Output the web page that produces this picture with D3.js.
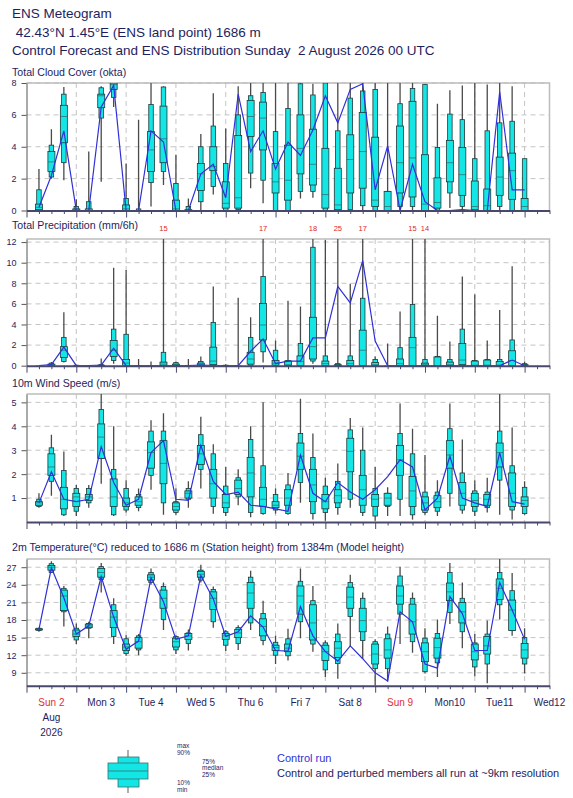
<!DOCTYPE html>
<html>
<head>
<meta charset="utf-8">
<script src="https://cdn.jsdelivr.net/npm/d3@7"></script>
<style>
body{margin:0;background:#fff;}
text{font-family:"Liberation Sans",Arial,Helvetica,sans-serif;}
</style>
</head>
<body>
<svg id="meteo" width="573" height="798"></svg>
<script>
// forecast steps (hours after 2 Aug 2026 00 UTC)
var stepHours = [6,12,18,24,30,36,42,48,54,60,66,72,78,84,90,96,102,108,114,120,
                 126,132,138,144,150,156,162,168,174,180,186,192,198,204,210,216,222,228,234,240];
var dayBounds = [24,48,72,96,120,144,168,192,216,240];
var dayMid = [12,36,60,84,108,132,156,180,204,228,252];
var dayLabels = ["Sun 2","Mon 3","Tue 4","Wed 5","Thu 6","Fri 7","Sat 8","Sun 9","Mon10","Tue11","Wed12"];
var dayRed = [true,false,false,false,false,false,false,true,false,false,false];

// total cloud cover (okta)
var cloudMin = [0,2.0,1.9,0,0,1.8,6.5,0,0,0.25,1.6,0,0,0,1.0,0,0,1.4,0.45,0,0,0.75,0.8,0,0,0,0,0,0,0,0,0,0,0.15,0,0,0,0,0,0];
var cloudP10 = [0,2.1,3.0,0,0,5.8,7.1,0,0,1.75,2.45,0,0,0.55,1.5,0,0.05,2.35,1.9,0,0,1.2,1.2,0,0,0.05,0.3,0,0,0.25,0.25,0,0,1.1,0.25,0,0,0.25,0,0];
var cloudP25 = [0.05,2.45,4.25,0,0,6.45,7.6,0,0,2.45,3.0,0,0,1.25,2.5,0.15,0.15,4.65,3.8,1.1,0.65,2.3,1.6,0.15,0.05,1.1,1.4,0.25,0,1.1,0.85,0,0.15,1.8,0.95,0.05,0,0.95,0.7,0];
var cloudMed = [0.2,3.05,5.9,0.05,0,7.2,7.9,0.1,0,3.8,4.5,0.1,0,2.3,2.75,0.45,0.8,5.9,5.8,1.8,1.9,3.9,2.9,1.0,0.35,3.2,3.7,0.65,0.25,3.0,3.3,0.4,0.5,3.0,2.25,0.25,0.3,2.1,2.5,0.25];
var cloudP75 = [0.4,3.7,6.6,0.1,0.1,7.3,8,0.35,0,4.95,6.55,0.65,0.05,2.95,4.0,1.8,4.7,6.9,6.8,2.95,4.1,6.0,5.1,3.9,2.65,4.75,6.15,4.6,1.2,5.3,6.85,3.5,2.05,4.4,3.95,1.85,1.35,3.35,3.6,0.75];
var cloudP90 = [1.3,4.1,7.3,0.25,0.55,7.7,8,0.75,0.1,6.65,7.75,1.7,0.25,4.0,5.3,2.95,6.0,7.2,7.4,4.95,6.4,7.95,7.25,8,5.0,7.05,7.5,7.6,1.2,6.7,7.65,7.9,3.95,6.05,5.7,3.25,5.0,5.5,5.6,3.25];
var cloudMax = [2.6,5.1,7.75,0.7,3.7,7.8,8,2.95,5.7,8,7.8,3.5,0.75,4.8,7.35,5.15,7.8,8,8,8,8,8,7.95,8,8,8,8,8,8,8,8,7.9,6.7,7.55,7.85,8,7.9,8,7.8,3.25];
var cloudCtrl = [0.2,2.2,5.0,0,0,6.5,7.85,0,0,5.0,4.3,0,0,2.3,2.9,0.8,7.3,3.7,5.0,2.6,4.3,3.45,5.05,7.2,5.5,7.6,7.95,1.3,4.05,0,2.9,0.55,0,0,0.05,0,0,7.45,1.3,1.3];

// total precipitation (mm/6h)
var precMin = [0,0,0.3,0,0,0,0.2,0,0,0,0,0,0,0,0,0,0,0,0.3,0,0,0,0.2,0,0,0,0,0,0,0,0,0,0,0,0,0,0,0,0,0];
var precP10 = [0,0,0.4,0,0,0,0.5,0,0,0,0,0,0,0,0,0,0,0,1.35,0,0,0,0.45,0,0,0,0,0,0,0,0,0,0,0,0,0,0,0,0,0];
var precP25 = [0,0,0.8,0,0,0,0.9,0,0,0,0,0,0,0,0.1,0,0,0.15,2.5,0.05,0,0,0.65,0,0,0,0,0,0,0,0,0,0,0,0.1,0,0,0,0,0];
var precMed = [0,0.05,1.5,0,0,0,1.5,0.25,0,0,0.15,0.05,0,0.1,0.45,0,0,0.65,3.95,0.25,0.1,0.4,1.85,0.2,0,0.2,1.5,0.1,0,0.2,1.75,0.1,0,0.1,0.55,0.05,0.05,0.05,0.5,0];
var precP75 = [0,0.15,1.85,0,0,0.05,2.45,0.6,0,0,0.35,0.15,0,0.25,1.8,0,0,1.3,6.05,0.5,0.45,0.95,4.7,0.45,0.1,0.5,3.45,0.3,0,0.65,2.75,0.25,0.85,0.35,2.15,0.45,0.55,0.4,1.45,0.1];
var precP90 = [0,0.25,2.75,0.05,0,0.1,3.55,3.05,0,0,1.3,0.3,0,0.4,4.2,0.05,0,2.75,8.65,1.5,0.5,2.15,11.5,0.95,0.2,0.95,6.55,0.6,0,1.75,5.95,0.6,0.9,0.6,3.55,0.5,0.6,0.6,2.5,0.2];
var precMax = [0,0.35,5.2,0.1,0,0.7,9.5,9.3,0.65,0.4,15,0.4,0.65,0.9,7.7,0.15,6.6,4.7,17,2.45,6.3,5.75,18,12.2,25,7.95,17,0.9,2.15,5.25,15,14,4.85,2.35,8.65,6.9,2.45,5.4,9.65,0.4];
var precCtrl = [0,0.1,1.8,0,0,0.05,1.7,0,0,0,0,0,0,0.05,0,0,0,1.4,2.6,0.2,0.45,0.45,2.7,2.7,7.7,6.1,10.2,2.4,0,0,0,0,0,0,0,0,0,0,0.55,0];

// 10m wind speed (m/s)
var windMin = [0.6,1.1,0.25,0.25,0.6,1.6,0.25,0.4,0.45,1.35,0.3,0.3,0.6,1.4,0.35,0.25,0.7,0.2,0.3,0.35,0.3,0.8,0.1,0.05,0.3,0.6,0.25,0.05,0.25,0.25,0.1,0.3,0.25,0.65,0.35,0.25,0.4,0.3,0.1,0.3];
var windP10 = [0.65,1.7,0.3,0.45,0.8,2.65,0.3,0.5,0.6,1.95,0.8,0.4,0.95,2.2,0.65,0.4,1.05,0.4,0.35,0.5,0.35,1.65,0.35,0.4,0.6,0.95,0.4,0.25,0.65,0.95,0.3,0.4,0.45,1.2,0.5,0.45,0.6,1.75,0.5,0.35];
var windP25 = [0.7,1.95,0.55,0.65,0.9,2.65,0.65,0.65,0.7,2.25,1.6,0.5,1.0,2.4,1.0,0.6,1.15,1.05,0.65,0.6,0.7,2.2,0.85,0.55,0.8,2.1,0.7,0.65,0.7,1.95,0.65,0.5,0.6,2.25,0.7,0.65,0.7,2.3,0.65,0.65];
var windMed = [0.8,2.3,0.95,1.05,1.05,3.55,1.05,0.8,0.85,2.9,2.45,0.65,1.2,2.85,1.6,0.8,1.4,2.05,0.95,0.7,1.0,2.75,1.55,0.85,1.1,2.95,1.35,0.95,1.0,2.6,1.3,0.8,0.85,2.8,1.2,0.9,0.95,2.9,1.2,0.9];
var windP75 = [0.85,2.85,1.45,1.2,1.15,4.1,1.8,1.0,1.05,3.35,3.4,0.8,1.3,3.2,2.2,1.15,1.75,2.7,1.45,0.85,1.35,3.3,2.2,1.15,1.35,3.5,1.95,1.15,1.2,3.2,1.9,1.05,1.1,3.4,1.65,1.2,1.15,3.3,2.05,1.05];
var windP90 = [0.95,3.1,2.15,1.4,1.4,4.7,2.2,1.4,1.15,3.8,3.8,0.85,1.4,3.65,2.85,1.5,1.85,3.45,2.35,1.15,1.55,3.7,2.7,1.5,1.7,3.85,3.0,1.4,1.2,3.7,2.85,1.25,1.25,3.9,2.05,1.3,1.25,3.8,2.35,1.45];
var windMax = [1.2,3.65,2.95,1.55,1.55,5.35,4.0,1.75,1.4,4.25,4.55,1.4,1.7,4.4,3.25,2.3,2.2,4.0,5.0,1.4,2.05,5.15,3.7,1.85,2.45,4.35,3.95,2.3,1.45,4.95,3.9,2.8,1.75,4.95,3.45,1.75,1.85,5.35,3.95,1.7];
var windCtrl = [0.8,2.1,0.95,0.85,0.95,3.15,1.65,0.7,0.95,2.9,3.4,0.95,0.9,3.2,1.7,1.15,1.25,0.7,0.65,0.55,0.45,2.8,1.2,0.85,1.65,1.25,0.95,1.35,1.9,2.6,2.3,0.5,1.0,2.75,1.0,0.8,0.65,2.9,0.85,0.75];

// 2m temperature (deg C)
var tempMin = [16.0,26.0,16.9,13.9,14.9,22.7,13.9,11.9,12.0,24.0,16.3,12.2,12.8,24.4,16.7,12.7,12.9,16.3,13.7,10.5,11.1,14.9,12.6,8.3,8.0,13.5,11.4,6.8,7.5,13.9,12.4,8.9,8.3,17.3,13.2,8.4,7.2,18.1,15.3,8.9];
var tempP10 = [16.2,26.1,19.4,14.6,16.6,24.9,15.2,12.3,12.9,24.4,18.1,12.9,14.0,24.8,17.7,13.7,14.0,17.5,14.5,12.0,11.9,17.7,13.9,9.5,10.6,18.6,14.5,9.7,9.7,19.0,14.3,9.2,10.7,19.3,16.0,10.0,10.5,20.6,16.2,10.5];
var tempP25 = [16.3,26.5,19.6,15.2,16.7,25.3,16.7,12.8,13.2,24.8,20.0,13.4,14.7,25.3,19.8,14.7,15.0,20.0,15.3,12.8,12.6,19.0,14.6,11.1,11.6,20.0,16.0,10.5,11.5,20.7,15.6,10.9,11.5,21.3,17.5,11.2,12.2,21.5,16.2,11.5];
var tempMed = [16.4,27.0,22.1,15.6,17.0,26.1,18.5,13.4,14.3,25.3,21.7,14.3,15.3,25.8,21.7,15.3,15.8,22.6,16.9,13.3,13.2,22.1,17.5,12.6,13.2,21.9,17.9,12.2,12.9,22.1,17.7,12.6,13.3,22.8,19.4,12.6,13.6,23.4,19.7,12.9];
var tempP75 = [16.5,27.3,23.1,16.3,17.3,26.8,19.6,13.9,15.0,25.7,23.1,14.9,15.7,26.3,22.8,15.7,16.4,24.4,18.2,13.7,13.9,23.8,20.6,13.7,14.3,23.6,20.0,13.9,14.8,23.8,20.7,14.1,14.9,24.3,21.0,13.9,15.2,25.0,21.4,14.0];
var tempP90 = [16.6,27.6,23.4,16.6,17.4,27.1,20.6,14.8,15.3,26.1,23.7,15.2,15.8,26.5,23.2,16.0,16.7,25.3,19.1,14.2,14.8,24.6,21.3,14.1,15.6,24.4,21.7,14.3,15.6,25.5,21.7,14.9,15.7,26.1,21.7,14.1,15.6,26.1,23.0,15.0];
var tempMax = [16.7,28.0,23.8,17.4,17.7,27.7,21.7,15.4,15.6,26.8,24.4,15.4,16.4,27.4,23.7,16.3,17.1,26.4,21.3,15.3,16.5,26.8,23.8,14.5,17.4,25.7,22.7,14.7,16.9,27.1,22.7,16.6,18.1,27.7,24.4,15.6,17.9,28.5,26.0,16.6];
var tempCtrl = [16.4,26.9,21.8,15.6,17.0,25.4,18.5,13.0,14.4,25.2,21.1,14.7,15.3,25.6,21.6,15.2,16.0,18.7,16.8,12.8,12.7,20.3,15.3,12.6,11.0,13.6,11.4,9.0,7.6,19.4,17.7,10.5,9.8,22.0,19.1,12.8,12.8,24.4,19.7,14.7];

var navy = "#1e1e5e";
var boxFill = "#14e6e6";
var ctrlBlue = "#3030d8";

var svg = d3.select("#meteo");
var x = d3.scaleLinear().domain([0,252]).range([26.5,549.5]);

// kopfzeilen
svg.append("text").attr("x",12).attr("y",18).attr("font-size",13.5).attr("fill",navy).text("ENS Meteogram");
svg.append("text").attr("x",12).attr("y",37).attr("font-size",13.5).attr("fill",navy).attr("xml:space","preserve").text(" 42.43°N 1.45°E (ENS land point) 1686 m");
svg.append("text").attr("x",12).attr("y",55).attr("font-size",13.5).attr("fill",navy).attr("xml:space","preserve").text("Control Forecast and ENS Distribution Sunday  2 August 2026 00 UTC");

var panels = [
	{key:"cloud", title:"Total Cloud Cover (okta)", top:83, bottom:210.5, domain:[0,8], ticks:[0,2,4,6,8], titleY:76,
	 s:{min:cloudMin,p10:cloudP10,p25:cloudP25,med:cloudMed,p75:cloudP75,p90:cloudP90,max:cloudMax,ctrl:cloudCtrl}},
	{key:"prec", title:"Total Precipitation (mm/6h)", top:239, bottom:365.7, domain:[0,12.3], ticks:[0,2,4,6,8,10,12], titleY:229, overLabel:true,
	 s:{min:precMin,p10:precP10,p25:precP25,med:precMed,p75:precP75,p90:precP90,max:precMax,ctrl:precCtrl}},
	{key:"wind", title:"10m Wind Speed (m/s)", top:394, bottom:522, domain:[0,5.35], ticks:[1,2,3,4,5], titleY:387,
	 s:{min:windMin,p10:windP10,p25:windP25,med:windMed,p75:windP75,p90:windP90,max:windMax,ctrl:windCtrl}},
	{key:"temp", title:"2m Temperature(°C) reduced to 1686 m (Station height) from 1384m (Model height)", top:559, bottom:685.7, domain:[6.8,28.4], ticks:[9,12,15,18,21,24,27], titleY:551,
	 s:{min:tempMin,p10:tempP10,p25:tempP25,med:tempMed,p75:tempP75,p90:tempP90,max:tempMax,ctrl:tempCtrl}}
];

var wideW = 7, narrowW = 4.5;

function drawPanel(cfg)
{
	var s = cfg.s;
	var y = d3.scaleLinear().domain(cfg.domain).range([cfg.bottom, cfg.top]);
	var g = svg.append("g").attr("id", cfg.key);
	var idx = d3.range(stepHours.length);

	svg.append("clipPath").attr("id","clip-"+cfg.key).append("rect")
		.attr("x", x(0)).attr("y", cfg.top)
		.attr("width", x(252)-x(0)).attr("height", cfg.bottom-cfg.top);

	//gitter
	g.selectAll(".hg").data(cfg.ticks.filter(function(v){return y(v) < cfg.bottom-1;})).join("line")
		.attr("x1", x(0)).attr("x2", x(252))
		.attr("y1", function(v){return y(v);}).attr("y2", function(v){return y(v);})
		.attr("stroke","#c4c4c4").attr("stroke-dasharray","5,4").attr("stroke-width",1);
	g.selectAll(".vg").data(dayBounds).join("line")
		.attr("x1", function(h){return x(h);}).attr("x2", function(h){return x(h);})
		.attr("y1", cfg.top).attr("y2", cfg.bottom)
		.attr("stroke","#c4c4c4").attr("stroke-dasharray","5,4").attr("stroke-width",1);

	//rahmen oben/rechts
	g.append("path").attr("d","M"+x(0)+","+cfg.top+"H"+x(252)+"V"+cfg.bottom)
		.attr("fill","none").attr("stroke","#bcbcbc").attr("stroke-width",1.5);

	svg.append("text").attr("x",12).attr("y",cfg.titleY).attr("font-size",10.6).attr("fill",navy).text(cfg.title);

	var bx = g.append("g").attr("clip-path","url(#clip-"+cfg.key+")");
	// whisker min..max
	bx.selectAll(".wh").data(idx).join("line")
		.attr("x1", function(i){return x(stepHours[i]);}).attr("x2", function(i){return x(stepHours[i]);})
		.attr("y1", function(i){return y(s.min[i]);}).attr("y2", function(i){return y(s.max[i]);})
		.attr("stroke","#4a4a4a").attr("stroke-width",1.3);
	// 10-90%
	bx.selectAll(".nb").data(idx).join("rect")
		.attr("x", function(i){return x(stepHours[i])-narrowW/2;}).attr("width", narrowW)
		.attr("y", function(i){return y(s.p90[i]);})
		.attr("height", function(i){return y(s.p10[i])-y(s.p90[i]);})
		.attr("fill",boxFill).attr("stroke","#223838").attr("stroke-width",0.8);
	// 25-75%
	bx.selectAll(".wb").data(idx).join("rect")
		.attr("x", function(i){return x(stepHours[i])-wideW/2;}).attr("width", wideW)
		.attr("y", function(i){return y(s.p75[i]);})
		.attr("height", function(i){return y(s.p25[i])-y(s.p75[i]);})
		.attr("fill",boxFill).attr("stroke","#223838").attr("stroke-width",0.8);
	bx.selectAll(".md").data(idx).join("line")
		.attr("x1", function(i){return x(stepHours[i])-wideW/2;}).attr("x2", function(i){return x(stepHours[i])+wideW/2;})
		.attr("y1", function(i){return y(s.med[i]);}).attr("y2", function(i){return y(s.med[i]);})
		.attr("stroke","#335050").attr("stroke-width",0.6);

	// control run
	bx.append("path").datum(idx)
		.attr("d", d3.line().x(function(i){return x(stepHours[i]);}).y(function(i){return y(s.ctrl[i]);}))
		.attr("fill","none").attr("stroke",ctrlBlue).attr("stroke-width",1.2);

	// werte ueber dem diagramm
	if(cfg.overLabel)
	{
		svg.selectAll(".ov-"+cfg.key).data(idx.filter(function(i){return s.max[i] > cfg.domain[1];})).join("text")
			.attr("x", function(i){return x(stepHours[i]);}).attr("y", cfg.top-8)
			.attr("text-anchor","middle").attr("font-size",7.5).attr("fill","#e02828")
			.text(function(i){return d3.format("d")(s.max[i]);});
	}

	// achsen
	var ya = g.append("g").attr("transform","translate("+x(0)+",0)")
		.call(d3.axisLeft(y).tickValues(cfg.ticks).tickFormat(d3.format("d")).tickSize(5).tickSizeOuter(0).tickPadding(5));
	ya.select(".domain").attr("stroke","#555");
	ya.selectAll(".tick line").attr("stroke","#555");
	ya.selectAll(".tick text").attr("fill",navy).attr("font-size",9).attr("font-family","Liberation Sans,Arial,sans-serif");

	var xa = g.append("g").attr("transform","translate(0,"+cfg.bottom+")")
		.call(d3.axisBottom(x).tickValues(d3.range(0,253,6)).tickSize(3.5).tickSizeOuter(0).tickFormat(""));
	xa.select(".domain").attr("stroke","#48486c").attr("stroke-width",2);
	xa.selectAll(".tick line").attr("stroke","#48486c")
		.attr("y2", function(h){return h%24==0 ? 7 : 3.5;});
}

for(var p in panels) drawPanel(panels[p]);

// tagesbeschriftung
svg.selectAll(".day").data(d3.range(dayLabels.length)).join("text")
	.attr("x", function(i){return x(dayMid[i]);}).attr("y", 706)
	.attr("text-anchor","middle").attr("font-size",10)
	.attr("fill", function(i){return dayRed[i] ? "#e03030" : navy;})
	.text(function(i){return dayLabels[i];});
svg.append("text").attr("x", x(12)).attr("y",721).attr("text-anchor","middle").attr("font-size",10).attr("fill",navy).text("Aug");
svg.append("text").attr("x", x(12)).attr("y",736).attr("text-anchor","middle").attr("font-size",10).attr("fill",navy).text("2026");

// legende
var lg = svg.append("g");
lg.append("line").attr("x1",128).attr("x2",128).attr("y1",750).attr("y2",793).attr("stroke","#777").attr("stroke-width",1.2);
lg.append("rect").attr("x",118).attr("y",757).attr("width",21).attr("height",30).attr("fill",boxFill).attr("stroke","#337070").attr("stroke-width",0.8);
lg.append("rect").attr("x",108).attr("y",763).attr("width",40).attr("height",16).attr("fill",boxFill).attr("stroke","#337070").attr("stroke-width",0.8);
lg.append("line").attr("x1",108).attr("x2",148).attr("y1",771).attr("y2",771).attr("stroke","#337070").attr("stroke-width",0.8);
var legTxt = [["max",177,747.5],["90%",177,755],["75%",202,763.5],["median",202,770],["25%",202,776.5],["10%",177,784.5],["min",177,792]];
lg.selectAll(".lt").data(legTxt).join("text")
	.attr("x", function(d){return d[1];}).attr("y", function(d){return d[2];})
	.attr("font-size",6.5).attr("fill",navy).text(function(d){return d[0];});
svg.append("text").attr("x",277).attr("y",762).attr("font-size",11).attr("fill",ctrlBlue).text("Control run");
svg.append("text").attr("x",277).attr("y",777).attr("font-size",11).attr("fill",navy).text("Control and perturbed members all run at ~9km resolution");
</script>
</body>
</html>
